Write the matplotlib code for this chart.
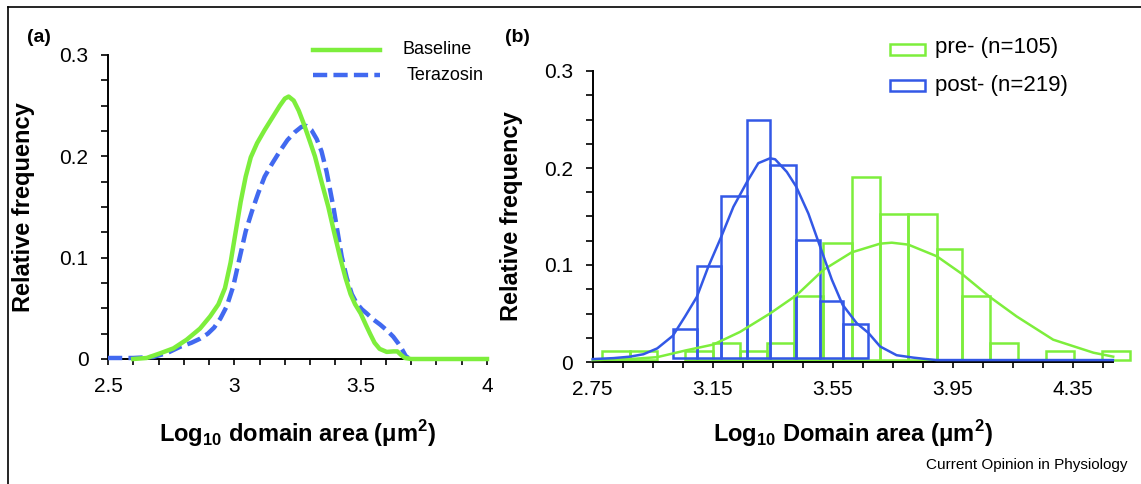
import numpy as np
import matplotlib
matplotlib.use("Agg")
import matplotlib.pyplot as plt
from matplotlib.ticker import MultipleLocator, FixedLocator
from matplotlib.lines import Line2D
from matplotlib.patches import Rectangle

plt.rcParams['font.family'] = ['Liberation Sans', 'DejaVu Sans']
plt.rcParams['mathtext.fontset'] = 'custom'
plt.rcParams['mathtext.rm'] = 'Liberation Sans'
plt.rcParams['mathtext.bf'] = 'Liberation Sans:bold'

GREEN = '#7DEE3C'
BLUE_A = '#4169F0'
BLUE_B = '#3358E6'

# ---- panel (a): smoothed distributions ----
base_x = [2.600, 2.653, 2.706, 2.759, 2.811, 2.864, 2.904, 2.937, 2.963, 2.985, 3.005, 3.025,
          3.045, 3.065, 3.090, 3.120, 3.150, 3.180, 3.200, 3.215, 3.235, 3.255, 3.275, 3.300,
          3.319, 3.345, 3.372, 3.395, 3.418, 3.440, 3.460, 3.478, 3.500, 3.520, 3.537, 3.555,
          3.575, 3.603, 3.630, 3.645, 3.660, 3.675, 3.700, 4.000]
base_y = [0.0, 0.001, 0.0056, 0.0105, 0.019, 0.030, 0.042, 0.054, 0.070, 0.095, 0.125, 0.155,
          0.180, 0.199, 0.213, 0.226, 0.238, 0.250, 0.257, 0.259, 0.255, 0.245, 0.232, 0.214,
          0.200, 0.175, 0.150, 0.125, 0.101, 0.080, 0.064, 0.054, 0.045, 0.034, 0.025, 0.016,
          0.010, 0.007, 0.0075, 0.0075, 0.004, 0.001, 0.0, 0.0]
tera_x = [2.500, 2.600, 2.679, 2.735, 2.785, 2.830, 2.864, 2.895, 2.920, 2.945, 2.970, 2.996,
          3.022, 3.045, 3.070, 3.095, 3.120, 3.150, 3.180, 3.210, 3.240, 3.265, 3.285, 3.305,
          3.326, 3.345, 3.365, 3.392, 3.425, 3.445, 3.465, 3.484, 3.505, 3.524, 3.550, 3.577,
          3.605, 3.629, 3.650, 3.665, 3.678, 3.689]
tera_y = [0.001, 0.001, 0.002, 0.006, 0.012, 0.016, 0.020, 0.025, 0.031, 0.040, 0.052, 0.072,
          0.101, 0.126, 0.146, 0.164, 0.180, 0.193, 0.205, 0.216, 0.224, 0.229, 0.230, 0.226,
          0.217, 0.205, 0.185, 0.150, 0.101, 0.080, 0.064, 0.055, 0.049, 0.045, 0.039, 0.034,
          0.028, 0.022, 0.015, 0.009, 0.003, 0.001]

# ---- panel (b): histograms + fitted curves ----
pre_edges = [2.780, 2.874, 2.965, 3.058, 3.152, 3.241, 3.332, 3.421, 3.519, 3.613, 3.708,
             3.802, 3.897, 3.980, 4.074, 4.167, 4.260, 4.354, 4.447, 4.541]
pre_freq = [0.011, 0.011, 0.0, 0.011, 0.020, 0.011, 0.020, 0.068, 0.123, 0.191, 0.153,
            0.153, 0.116, 0.068, 0.020, 0.0, 0.011, 0.0, 0.011]
post_edges = [3.017, 3.099, 3.177, 3.265, 3.341, 3.428, 3.508, 3.583, 3.669]
post_freq = [0.034, 0.099, 0.171, 0.249, 0.203, 0.126, 0.063, 0.039]

pre_fit_x = [2.750, 2.874, 2.965, 3.061, 3.152, 3.241, 3.341, 3.430, 3.519, 3.613, 3.708,
             3.747, 3.802, 3.897, 3.980, 4.074, 4.163, 4.285, 4.419, 4.485]
pre_fit_y = [0.002, 0.003, 0.005, 0.012, 0.018, 0.031, 0.050, 0.069, 0.095, 0.113, 0.122,
             0.123, 0.121, 0.109, 0.091, 0.067, 0.047, 0.023, 0.0096, 0.0055]
post_fit_x = [2.750, 2.819, 2.874, 2.919, 2.965, 3.017, 3.058, 3.097, 3.135, 3.177, 3.219,
              3.265, 3.302, 3.341, 3.358, 3.397, 3.428, 3.469, 3.508, 3.547, 3.583, 3.630,
              3.669, 3.708, 3.763, 3.819, 3.863, 3.897, 4.484]
post_fit_y = [0.003, 0.004, 0.0055, 0.008, 0.014, 0.027, 0.047, 0.067, 0.098, 0.128, 0.160,
              0.186, 0.205, 0.210, 0.209, 0.196, 0.181, 0.153, 0.119, 0.085, 0.059, 0.040,
              0.030, 0.016, 0.007, 0.0045, 0.003, 0.002, 0.002]

W, H = 1141, 484
fig = plt.figure(figsize=(W / 100, H / 100), dpi=100)


def px_axes(left, top, right, bottom):
    return fig.add_axes([left / W, 1 - bottom / H, (right - left) / W, (bottom - top) / H])


def style_axes(ax):
    for s in ['top', 'right']:
        ax.spines[s].set_visible(False)
    for s in ['left', 'bottom']:
        ax.spines[s].set_linewidth(1.4)
    ax.yaxis.set_major_locator(FixedLocator([0, 0.1, 0.2, 0.3]))
    ax.yaxis.set_minor_locator(MultipleLocator(0.025))
    ax.set_yticklabels(['0', '0.1', '0.2', '0.3'])
    ax.tick_params(axis='both', which='both', direction='out', width=1.2, labelsize=15)
    ax.tick_params(axis='y', which='both', length=5, pad=9)
    ax.tick_params(axis='x', which='both', length=4, pad=9)
    ax.patch.set_alpha(0)


# frame
fig.add_artist(Line2D([8 / W, 8 / W], [0, 1 - 7 / H], color='black', lw=1.2))
fig.add_artist(Line2D([8 / W, 1], [1 - 7 / H, 1 - 7 / H], color='black', lw=1.2))

# panel (a)
ax = px_axes(108, 55, 487, 359)
ax.set_xlim(2.5, 4.0)
ax.set_ylim(0, 0.3)
style_axes(ax)
ax.xaxis.set_major_locator(FixedLocator([2.5, 3.0, 3.5, 4.0]))
ax.xaxis.set_minor_locator(MultipleLocator(0.1))
ax.set_xticklabels(['2.5', '3', '3.5', '4'])
ax.plot(tera_x, tera_y, color=BLUE_A, lw=3.2, ls=(0, (3.2, 1.4)), clip_on=False, zorder=3,
        solid_joinstyle='round')
ax.plot(base_x, base_y, color=GREEN, lw=3.2, clip_on=False, zorder=4, solid_joinstyle='round')
ax.set_ylabel('Relative frequency', fontsize=17, fontweight='bold')
ax.yaxis.set_label_coords(-0.193, 0.5)
ax.set_xlabel(r'Log$_{\mathbf{10}}$ domain area (μm$^{\mathbf{2}}$)', fontsize=17, fontweight='bold')
ax.xaxis.set_label_coords(0.5, -0.195)

fig.text(27 / W, 1 - 38 / H, '(a)', fontsize=14, fontweight='bold', va='center', ha='left')
fig.add_artist(Line2D([313 / W, 380 / W], [1 - 50 / H] * 2, color=GREEN, lw=3.2))
fig.add_artist(Line2D([313 / W, 380 / W], [1 - 75 / H] * 2, color=BLUE_A, lw=3.2, ls=(0, (3.2, 1.4))))
fig.text(403 / W, 1 - 50 / H, 'Baseline', fontsize=13, va='center', ha='left')
fig.text(407 / W, 1 - 75 / H, 'Terazosin', fontsize=13, va='center', ha='left')

# panel (b)
bx = px_axes(592.7, 71, 1130, 362)
bx.set_xlim(2.75, 4.541)
bx.set_ylim(0, 0.3)
style_axes(bx)
bx.spines['bottom'].set_bounds(2.75, 4.485)
bx.xaxis.set_major_locator(FixedLocator([2.75, 3.15, 3.55, 3.95, 4.35]))
bx.xaxis.set_minor_locator(FixedLocator([2.85, 2.95, 3.05, 3.25, 3.35, 3.45, 3.65, 3.75, 3.85,
                                         4.05, 4.15, 4.25, 4.45]))
bx.set_xticklabels(['2.75', '3.15', '3.55', '3.95', '4.35'])

pre_w = np.diff(pre_edges)
post_w = np.diff(post_edges)
for left, w, h in zip(pre_edges[:-1], pre_w, pre_freq):
    if h > 0:
        bx.add_patch(Rectangle((left, 0.002), w, h - 0.002, fill=False, edgecolor=GREEN, lw=1.8,
                               clip_on=False, zorder=2))
for left, w, h in zip(post_edges[:-1], post_w, post_freq):
    bx.add_patch(Rectangle((left, 0.004), w, h - 0.004, fill=False, edgecolor=BLUE_B, lw=1.8,
                           clip_on=False, zorder=3))
bx.plot(pre_fit_x, pre_fit_y, color=GREEN, lw=1.8, zorder=4, clip_on=False, solid_joinstyle='round')
bx.plot(post_fit_x, post_fit_y, color=BLUE_B, lw=1.8, zorder=5, clip_on=False, solid_joinstyle='round')

bx.set_ylabel('Relative frequency', fontsize=17, fontweight='bold')
bx.yaxis.set_label_coords(-0.13, 0.5)
bx.set_xlabel(r'Log$_{\mathbf{10}}$ Domain area (μm$^{\mathbf{2}}$)', fontsize=17, fontweight='bold')
bx.xaxis.set_label_coords(0.485, -0.192)

fig.text(505 / W, 1 - 38 / H, '(b)', fontsize=14, fontweight='bold', va='center', ha='left')
fig.add_artist(Rectangle((890 / W, 1 - 55 / H), 35 / W, 11 / H, fill=False, edgecolor=GREEN, lw=1.8))
fig.add_artist(Rectangle((890 / W, 1 - 91 / H), 35 / W, 11 / H, fill=False, edgecolor=BLUE_B, lw=1.8))
fig.text(935 / W, 1 - 47 / H, 'pre- (n=105)', fontsize=16, va='center', ha='left')
fig.text(935 / W, 1 - 85 / H, 'post- (n=219)', fontsize=16, va='center', ha='left')

fig.text(1128 / W, 1 - 465 / H, 'Current Opinion in Physiology', fontsize=11, va='center', ha='right')

fig.savefig('out.png', dpi=100)
